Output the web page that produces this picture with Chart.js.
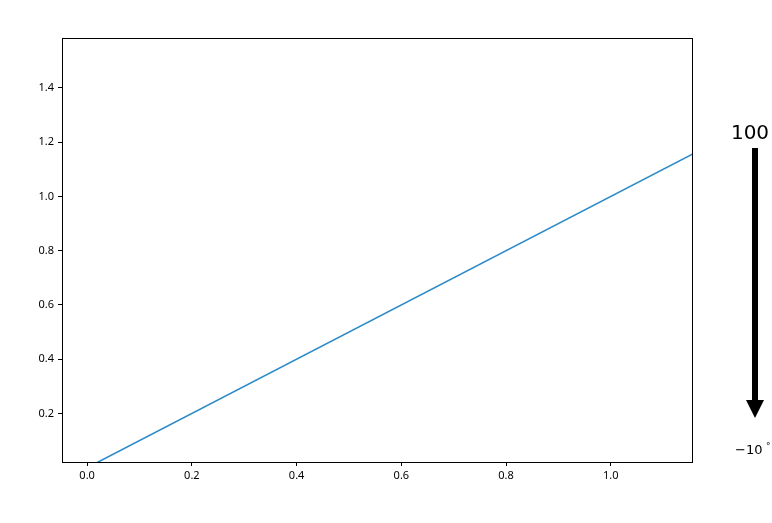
<!DOCTYPE html>
<html>
<head>
<meta charset="utf-8">
<script src="https://cdn.jsdelivr.net/npm/chart.js@4"></script>
<style>
  html, body { margin: 0; padding: 0; background: #fff; }
  #wrap { width: 772px; height: 523px; position: relative; }
</style>
</head>
<body>
<div id="wrap"><canvas id="lineChart"></canvas></div>
<script>
// data
const xValues = [0, 1.5];
const yValues = [0, 1.5];
const xTicks = [0.0, 0.2, 0.4, 0.6, 0.8, 1.0];
const yTicks = [0.2, 0.4, 0.6, 0.8, 1.0, 1.2, 1.4];
const xRange = [-0.048, 1.155];
const yRange = [0.021, 1.584];
const arrowTop = '100';
const arrowBottom = '\u221210';
const degree = '\u00b0';

const tickFont = { family: 'Noto Sans', size: 11 };

// frame around plot + the arrow annotation on the right
const extras = {
  id: 'extras',
  afterDraw(chart) {
    const c = chart.ctx;
    const a = chart.chartArea;
    c.save();
    c.strokeStyle = '#000';
    c.lineWidth = 1;
    c.strokeRect(a.left + 0.5, a.top + 0.5, a.right - a.left, a.bottom - a.top);

    // arrow
    const ax = 755;
    c.fillStyle = '#000';
    c.fillRect(ax - 3, 148, 6, 253);
    c.beginPath();
    c.moveTo(ax - 9, 400);
    c.lineTo(ax + 9, 400);
    c.lineTo(ax, 418);
    c.closePath();
    c.fill();

    c.textAlign = 'center';
    c.textBaseline = 'alphabetic';
    c.font = '20px "DejaVu Sans"';
    c.fillText(arrowTop, 750, 139);
    c.textAlign = 'left';
    c.font = '13px "DejaVu Sans"';
    c.fillText(arrowBottom, 735, 454);
    c.font = '9px "DejaVu Sans"';
    c.fillText(degree, 766, 449);
    c.restore();
  }
};

const ctx = document.getElementById('lineChart');
new Chart(ctx, {
  type: 'line',
  data: {
    datasets: [{
      data: xValues.map((x, i) => ({ x: x, y: yValues[i] })),
      borderColor: '#2e8bc8',
      borderWidth: 1.6,
      pointRadius: 0,
      fill: false,
      tension: 0
    }]
  },
  options: {
    responsive: true,
    maintainAspectRatio: false,
    animation: false,
    layout: { padding: { left: 0, right: 80, top: 38, bottom: 0 } },
    plugins: { legend: { display: false }, tooltip: { enabled: false } },
    scales: {
      x: {
        type: 'linear',
        min: xRange[0],
        max: xRange[1],
        afterFit: s => { s.height = 61; },
        afterBuildTicks: s => { s.ticks = xTicks.map(v => ({ value: v })); },
        ticks: { color: '#000', font: tickFont, padding: 3, maxRotation: 0,
                 callback: v => v.toFixed(1) },
        grid: { drawOnChartArea: false, tickLength: 4, color: '#000' },
        border: { color: '#000' }
      },
      y: {
        type: 'linear',
        min: yRange[0],
        max: yRange[1],
        afterFit: s => { s.width = 62; },
        afterBuildTicks: s => { s.ticks = yTicks.map(v => ({ value: v })); },
        ticks: { color: '#000', font: tickFont, padding: 4,
                 callback: v => v.toFixed(1) },
        grid: { drawOnChartArea: false, tickLength: 4, color: '#000' },
        border: { color: '#000' }
      }
    }
  },
  plugins: [extras]
});
</script>
</body>
</html>
